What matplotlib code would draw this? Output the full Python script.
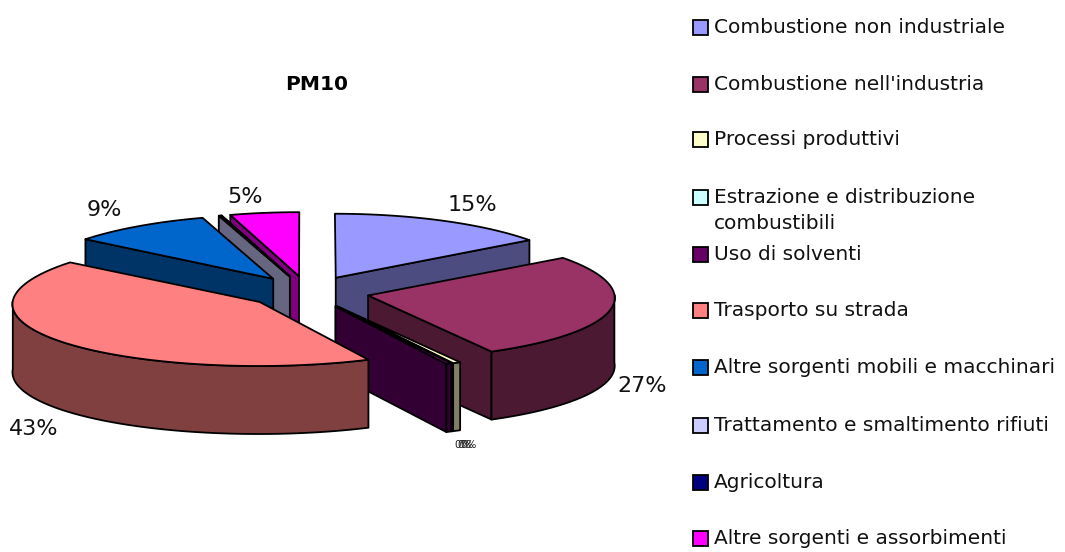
"""Exploded 3D pie chart of PM10 sources, with a hand placed legend.

matplotlib has no 3D pie, so each slice is projected onto an ellipse and
the slices are painted back to front.
"""

import numpy as np
import matplotlib
matplotlib.use("Agg")
import matplotlib.pyplot as plt
from matplotlib.patches import Polygon, Rectangle

#data
sources = ["Combustione non industriale", "Combustione nell'industria",
           "Processi produttivi", "Estrazione e distribuzione\ncombustibili",
           "Uso di solventi", "Trasporto su strada",
           "Altre sorgenti mobili e macchinari",
           "Trattamento e smaltimento rifiuti", "Agricoltura",
           "Altre sorgenti e assorbimenti"]
shares = [15.0, 27.0, 0.5, 0.02, 0.35, 42.75, 9.5, 0.15, 0.03, 4.7]
top_colors = ["#9999FF", "#993366", "#FFFFCC", "#CCFFFF", "#660066",
              "#FF8080", "#0066CC", "#CCCCFF", "#000080", "#FF00FF"]
side_colors = ["#4C4C80", "#4C1933", "#808066", "#668080", "#330033",
               "#804040", "#003366", "#666680", "#000040", "#800080"]
pct_labels = ["15%", "27%", "43%", "9%", "5%"]

#projection, in pixels of the figure
CX, CY = 308, 292
A_X, B_Y = 246, 64
DEPTH = 68
EXPLODE = 0.25
PERSP = 0.03
EDGE = 1.3

#back to front
PAINT_ORDER = [0, 9, 8, 7, 6, 1, 2, 3, 4, 5]
LEGEND_Y = [28, 85, 140, 198, 255, 311, 368, 426, 483, 539]


def project(u, v):
    """Plane coordinates to screen pixels, front of the pie a little wider"""
    return CX + A_X * u * (1 + PERSP * v), CY + B_Y * v


def draw_slice(ax, start, end, top, side):
    """Draw one slice: flat wall, rim wall and top face. Angles clockwise
    from 12 o'clock, in degrees.
    """
    mid = np.radians((start + end) / 2)
    off_u, off_v = EXPLODE * np.sin(mid), -EXPLODE * np.cos(mid)

    theta = np.radians(np.linspace(start, end, max(int(end - start) * 2, 2)))
    rim_x, rim_y = project(off_u + np.sin(theta), off_v - np.cos(theta))
    ax_x, ax_y = project(off_u, off_v)

    #flat wall that looks towards the viewer
    if 0 < end < 180:
        wall = [(ax_x, ax_y), (rim_x[-1], rim_y[-1]),
                (rim_x[-1], rim_y[-1] + DEPTH), (ax_x, ax_y + DEPTH)]
        ax.add_patch(Polygon(wall, fc=side, ec="black", lw=EDGE, joinstyle="round"))
    if start >= 180:
        wall = [(ax_x, ax_y), (rim_x[0], rim_y[0]),
                (rim_x[0], rim_y[0] + DEPTH), (ax_x, ax_y + DEPTH)]
        ax.add_patch(Polygon(wall, fc=side, ec="black", lw=EDGE, joinstyle="round"))

    #rim, only the part at the front
    front = np.cos(theta) < 0.02
    if front.sum() >= 2:
        fx, fy = rim_x[front], rim_y[front]
        rim = np.column_stack([np.r_[fx, fx[::-1]], np.r_[fy, fy[::-1] + DEPTH]])
        ax.add_patch(Polygon(rim, fc=side, ec="black", lw=EDGE, joinstyle="round"))

    face = np.column_stack([np.r_[ax_x, rim_x], np.r_[ax_y, rim_y]])
    ax.add_patch(Polygon(face, fc=top, ec="black", lw=EDGE, joinstyle="round"))


def main():
    """Main function"""
    plt.rcParams["font.family"] = ["DejaVu Sans"]
    fig = plt.figure(figsize=(10.65, 5.52), dpi=100, facecolor="white")
    ax = fig.add_axes([0, 0, 1, 1])
    ax.set_xlim(0, 1065)
    ax.set_ylim(552, 0)
    ax.axis("off")

    edges = np.cumsum([0] + shares) / sum(shares) * 360
    for i in PAINT_ORDER:
        draw_slice(ax, edges[i], edges[i + 1], top_colors[i], side_colors[i])

    ax.text(317, 84, "PM10", fontsize=14.5, fontweight="bold", ha="center", va="center")

    label_pos = [(472, 205), (642, 386), (34, 429), (104, 210), (245, 197)]
    for text, (x, y) in zip(pct_labels, label_pos):
        ax.text(x, y, text, fontsize=16, color="#111111", ha="center", va="center")
    for x in [463, 466, 469]:
        ax.text(x, 445, "0%", fontsize=7.5, color="#222222", ha="center", va="center")

    for name, color, y in zip(sources, top_colors, LEGEND_Y):
        ax.add_patch(Rectangle((692.5, y - 8), 15, 15, fc=color, ec="black", lw=1.3))
        ax.text(714, y - 10, name, fontsize=14.5, color="#111111", ha="left", va="top",
                linespacing=1.45)

    fig.savefig("out.png", dpi=100)


if (__name__ == "__main__"):
    main()
